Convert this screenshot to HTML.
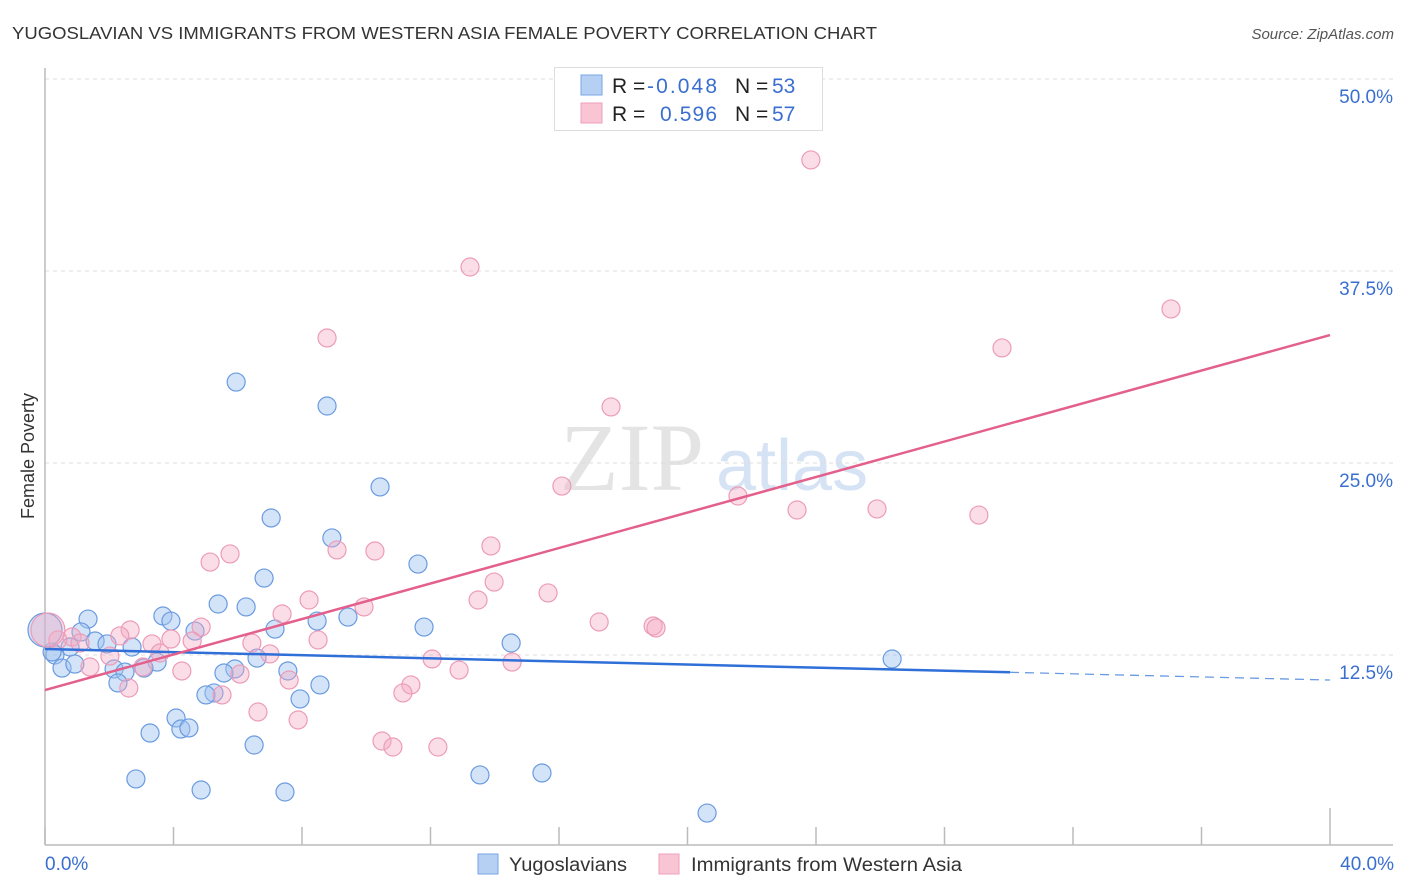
<!DOCTYPE html>
<html><head><meta charset="utf-8"><style>
body{margin:0;background:#fff;font-family:"Liberation Sans",sans-serif;}
#wrap{position:relative;width:1406px;height:892px;overflow:hidden;}
</style></head><body>
<div id="wrap">
<svg id="chart" width="1406" height="892" xmlns="http://www.w3.org/2000/svg">
<text x="12" y="39" font-size="17.5" fill="#333" textLength="865" lengthAdjust="spacingAndGlyphs">YUGOSLAVIAN VS IMMIGRANTS FROM WESTERN ASIA FEMALE POVERTY CORRELATION CHART</text>
<text x="1394" y="39" font-size="15" fill="#555" font-style="italic" text-anchor="end">Source: ZipAtlas.com</text>
<text x="560" y="490" font-size="96" fill="#e4e4e4" font-family="Liberation Serif,serif">ZIP</text>
<text x="716" y="490" font-size="72" fill="#d5e3f5">atlas</text>
<text transform="translate(34,456) rotate(-90)" font-size="18" fill="#333" text-anchor="middle">Female Poverty</text>
<g id="grid"></g><g id="ticks"></g><g id="pts"></g><g id="lines"></g>
<g>
<rect x="554.5" y="67.5" width="268" height="63" fill="#fff" stroke="#ddd"/>
<rect x="581" y="75" width="21" height="20" fill="#b6d0f3" stroke="#7aa6e6"/>
<rect x="581" y="103" width="21" height="20" fill="#f9c5d5" stroke="#eda0ba"/>
<text y="93" font-size="21"><tspan x="612" fill="#222">R =</tspan><tspan x="647" fill="#3a6fd0" textLength="70">-0.048</tspan><tspan x="735" fill="#222">N =</tspan><tspan x="772" fill="#3a6fd0">53</tspan></text>
<text y="121" font-size="21"><tspan x="612" fill="#222">R =</tspan><tspan x="660" fill="#3a6fd0" textLength="57">0.596</tspan><tspan x="735" fill="#222">N =</tspan><tspan x="772" fill="#3a6fd0">57</tspan></text>
</g>
<text x="45" y="870" font-size="19" fill="#3a6fd0">0.0%</text>
<text x="1394" y="870" font-size="19" fill="#3a6fd0" text-anchor="end">40.0%</text>
<rect x="478" y="854" width="20" height="20" fill="#b6d0f3" stroke="#7aa6e6"/>
<text x="509" y="871" font-size="19" fill="#333" textLength="118" lengthAdjust="spacingAndGlyphs">Yugoslavians</text>
<rect x="659" y="854" width="20" height="20" fill="#f9c5d5" stroke="#eda0ba"/>
<text x="691" y="871" font-size="19" fill="#333" textLength="271" lengthAdjust="spacingAndGlyphs">Immigrants from Western Asia</text>
</svg>
</div>
<script>
const yTicks=[12.5,25,37.5,50];
const yTickLabels=["12.5%","25.0%","37.5%","50.0%"];
const xTicks=[0,4,8,12,16,20,24,28,32,36,40];
const blueX=[5.95,8.78,10.43,7.04,8.93,11.61,6.82,5.39,6.26,3.67,3.92,1.34,9.43,8.47,7.16,4.67,11.80,1.12,1.56,1.93,2.71,0.78,14.51,0.31,6.60,3.49,5.91,5.57,7.56,2.15,2.49,0.53,0.93,3.08,2.27,8.56,26.37,5.26,5.01,7.94,4.08,4.23,4.48,3.27,6.51,2.83,13.54,15.47,4.86,7.47,20.61,0.22,0.0];
const blueY=[30.27,28.71,23.44,21.42,20.12,18.42,17.51,15.82,15.63,15.04,14.71,14.84,14.97,14.71,14.19,14.06,14.32,14.00,13.41,13.22,13.02,13.02,13.28,12.50,12.30,12.04,11.59,11.33,11.46,11.59,11.39,11.65,11.91,11.65,10.68,10.55,12.24,10.03,9.90,9.64,8.40,7.68,7.75,7.42,6.64,4.43,4.69,4.82,3.71,3.58,2.21,12.70,14.13];
const pinkX=[23.84,13.23,35.05,8.78,29.79,17.62,16.09,21.57,23.41,25.90,29.07,5.76,5.14,10.27,9.09,13.88,13.98,15.66,13.48,8.22,9.93,7.38,17.25,18.93,19.02,4.86,2.65,2.33,0.84,0.40,3.33,3.92,4.58,8.50,6.44,1.09,7.00,3.58,2.02,12.05,14.54,1.40,3.05,4.26,6.07,12.89,7.60,11.39,11.14,2.61,5.51,6.63,7.88,10.49,10.83,12.23,0.09];
const pinkY=[44.73,37.76,35.03,33.14,32.49,28.65,23.50,22.85,21.94,22.01,21.61,19.08,18.55,19.27,19.34,19.60,17.25,16.54,16.08,16.08,15.63,15.17,14.65,14.39,14.26,14.32,14.13,13.74,13.67,13.48,13.22,13.54,13.41,13.48,13.28,13.28,12.57,12.63,12.43,12.24,12.04,11.72,11.72,11.46,11.26,11.52,10.87,10.55,10.03,10.35,9.90,8.79,8.27,6.90,6.51,6.51,14.13];
const blueTrend=[12.89,10.87];
const pinkTrend=[10.22,33.33];
const blueSolidEnd=30.04;

const NS="http://www.w3.org/2000/svg";
const X=v=>45+v*32.125;
const Y=v=>847-v*15.36;
function mk(tag,attrs,parent){const e=document.createElementNS(NS,tag);for(const k in attrs)e.setAttribute(k,attrs[k]);parent.appendChild(e);return e;}
const grid=document.getElementById('grid'),ticks=document.getElementById('ticks'),pts=document.getElementById('pts'),lines=document.getElementById('lines');
mk('line',{x1:45,y1:Y(50),x2:1393,y2:Y(50),stroke:'#ddd','stroke-dasharray':'4,4'},grid);
yTicks.forEach((t,i)=>{
  const l=mk('line',{x1:45,y1:Y(t),x2:1393,y2:Y(t),stroke:'#ddd','stroke-dasharray':'4,4'},grid);
  
  
  const tx=mk('text',{x:1393,y:Y(t)+24,'font-size':19,fill:'#3a6fd0','text-anchor':'end'},grid);
  tx.textContent=yTickLabels[i];
  
  
});
const ax=mk('line',{x1:45,y1:68,x2:45,y2:845,stroke:'#bbb','stroke-width':1.5},ticks);


const bx=mk('line',{x1:45,y1:845,x2:1393,y2:845,stroke:'#bbb','stroke-width':1.5},ticks);


xTicks.forEach((t,i)=>{
  const l=mk('line',{x1:X(t),y1:i===xTicks.length-1?808:827,x2:X(t),y2:845,stroke:'#bbb','stroke-width':1.5},ticks);
  
  
});
function drawPts(xs,ys,fill,stroke,name){
  xs.forEach((x,i)=>{
    const big=(x<0.15&&i===xs.length-1);
    const c=mk('circle',{cx:X(x),cy:Y(ys[i]),r:big?17:9,fill:fill,stroke:stroke,'stroke-width':1.2},pts);
    
    
  });
}
drawPts(blueX,blueY,'rgba(160,195,240,0.45)','#6a9be0','point-yugoslavian');
drawPts(pinkX,pinkY,'rgba(245,170,195,0.4)','#ec9cb7','point-immigrant');
const bAt=v=>blueTrend[0]+(blueTrend[1]-blueTrend[0])*v/40;
const b1=mk('line',{x1:X(0),y1:Y(bAt(0)),x2:X(blueSolidEnd),y2:Y(bAt(blueSolidEnd)),stroke:'#2f6fd8','stroke-width':2.5},lines);


const b2=mk('line',{x1:X(blueSolidEnd),y1:Y(bAt(blueSolidEnd)),x2:X(40),y2:Y(bAt(40)),stroke:'#6a9be0','stroke-width':1.3,'stroke-dasharray':'9,6'},lines);


const p1=mk('line',{x1:X(0),y1:Y(pinkTrend[0]),x2:X(40),y2:Y(pinkTrend[1]),stroke:'#e4608c','stroke-width':2.5},lines);


</script>
</body></html>
